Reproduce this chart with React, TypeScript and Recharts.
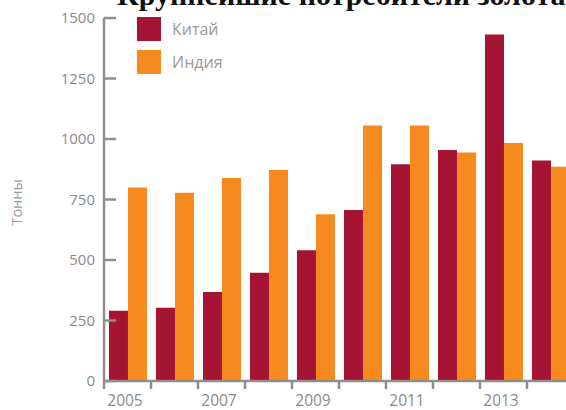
import React from 'react';
import { BarChart, Bar, XAxis, YAxis } from 'recharts';

const years = ['2005', '2006', '2007', '2008', '2009', '2010', '2011', '2012', '2013', '2014'];
const china = [290, 303, 368, 447, 540, 707, 896, 955, 1432, 911];
const india = [800, 778, 839, 872, 689, 1056, 1056, 944, 983, 885];
const yTicks = [0, 250, 500, 750, 1000, 1250, 1500];
const xLabelYears = ['2005', '2007', '2009', '2011', '2013'];
const seriesNames = ['Китай', 'Индия'];
const seriesColors = ['#A51433', '#F68A1F'];
const titleText = 'Крупнейшие потребители золота';
const yLabelText = 'Тонны';

const data = years.map((y, i) => ({ year: y, china: china[i], india: india[i] }));

const AXIS = '#8e8e8e';
const TEXT = '#8a8a8a';
const FONT = '"Open Sans", "Noto Sans", sans-serif';
const TICK_MARGIN = 9;

const YTick = (props: any) => {
  const { x, y, payload } = props;
  const ax = x + TICK_MARGIN;
  return (
    <g>
      <line x1={ax} y1={y} x2={ax + 12} y2={y} stroke={AXIS} strokeWidth={2.5} />
      <text x={x} y={y} dy="0.36em" textAnchor="end" fill={TEXT} fontSize={15} fontFamily={FONT}>
        {payload.value}
      </text>
    </g>
  );
};

const XTick = (props: any) => {
  const { x, y, payload } = props;
  const half = payload && typeof payload.offset === 'number' && payload.offset > 0 ? payload.offset : 23.5;
  const bx = x - half;
  const show = xLabelYears.includes(String(payload.value));
  return (
    <g>
      <line x1={bx} y1={y} x2={bx} y2={y + 8} stroke={AXIS} strokeWidth={2.5} />
      {show && (
        <text x={x - 2.5} y={y + 25} textAnchor="middle" fill={TEXT} fontSize={15.5} fontFamily={FONT}>
          {payload.value}
        </text>
      )}
    </g>
  );
};

const renderYLabel = (props: any) => {
  const vb = props.viewBox || { x: 0, y: 18, width: 104, height: 363 };
  const cx = vb.x + 17;
  const cy = vb.y + vb.height / 2 + 3;
  return (
    <text
      x={cx}
      y={cy}
      dy="0.35em"
      textAnchor="middle"
      transform={`rotate(-90 ${cx} ${cy})`}
      fill="#9a9a9a"
      fontSize={14.5}
      fontFamily={FONT}
    >
      {yLabelText}
    </text>
  );
};

export default function App() {
  return (
    <div
      style={{
        position: 'fixed',
        left: 0,
        top: 0,
        width: 566,
        height: 410,
        overflow: 'hidden',
        background: '#ffffff',
      }}
    >
      <div style={{ position: 'absolute', left: 0, top: 0 }}>
        <BarChart
          width={580}
          height={410}
          data={data}
          margin={{ top: 18, right: 6, bottom: 0, left: 0 }}
          barCategoryGap="10.6%"
          barGap={0}
        >
          <XAxis
            dataKey="year"
            interval={0}
            tickLine={false}
            tickSize={0}
            tickMargin={0}
            height={29}
            axisLine={{ stroke: AXIS, strokeWidth: 2.5 }}
            tick={<XTick />}
          />
          <YAxis
            domain={[0, 1500]}
            ticks={yTicks}
            interval={0}
            width={104}
            tickLine={false}
            tickSize={0}
            tickMargin={TICK_MARGIN}
            axisLine={{ stroke: AXIS, strokeWidth: 2.5 }}
            tick={<YTick />}
            label={{ value: yLabelText, content: renderYLabel }}
          />
          <Bar dataKey="china" name={seriesNames[0]} fill={seriesColors[0]} isAnimationActive={false} />
          <Bar dataKey="india" name={seriesNames[1]} fill={seriesColors[1]} isAnimationActive={false} />
        </BarChart>
      </div>
      <div style={{ position: 'absolute', left: 137, top: 17 }}>
        {seriesNames.map((n, i) => (
          <div key={n} style={{ display: 'flex', alignItems: 'center', height: 24, marginBottom: 9 }}>
            <div style={{ width: 24, height: 24, background: seriesColors[i] }} />
            <span style={{ marginLeft: 11, fontSize: 16, color: '#999999', fontFamily: FONT }}>{n}</span>
          </div>
        ))}
      </div>
      <div
        style={{
          position: 'absolute',
          left: 117,
          top: -22,
          fontFamily: '"Liberation Serif", "DejaVu Serif", serif',
          fontWeight: 'bold',
          fontSize: 30,
          color: '#111111',
          whiteSpace: 'nowrap',
        }}
      >
        {titleText}
      </div>
    </div>
  );
}
